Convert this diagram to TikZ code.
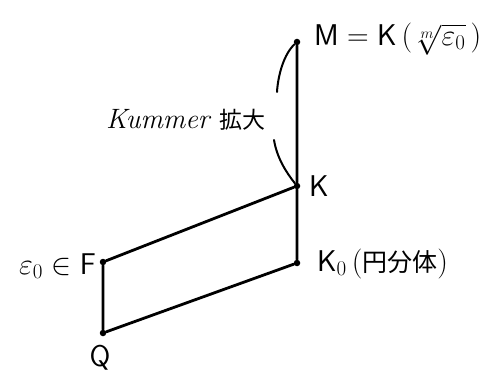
\documentclass[tikz,border=0pt]{standalone}
\usepackage{fix-cm}
\usepackage{fontspec}
\newfontfamily\jp{Noto Sans CJK JP}
\begin{document}
\begin{tikzpicture}[x=1pt,y=-1pt,
  dot/.style={circle,fill=black,inner sep=0pt,minimum size=6.5pt},
  edge/.style={line width=2.8pt,line cap=round},
  brace/.style={line width=2pt,line cap=round},
  lbl/.style={inner sep=0pt,font=\fontsize{30}{34}\selectfont}]
\useasboundingbox (0,0) rectangle (500,374);
\node[dot] (M) at (297,42) {};
\node[dot] (K) at (297,186) {};
\node[dot] (K0) at (297,263) {};
\node[dot] (F) at (103,262) {};
\node[dot] (Q) at (103,333) {};
\draw[edge] (M) -- (K) -- (K0) -- (Q) -- (F) -- (K);
\coordinate (c1) at (277,92);
\coordinate (c2) at (274,140);
\draw[brace] (M) .. controls (284,54) and (278,75) .. (c1);
\draw[brace] (c2) .. controls (277,158) and (286,172) .. (K);
\node[lbl,anchor=west] (Ml) at (314,39) {$\mathsf{M} = \mathsf{K}\,(\sqrt[m]{\varepsilon_0}\,)$};
\node[lbl,anchor=west] (Kl) at (309,186) {$\mathsf{K}$};
\node[lbl,anchor=west] (K0l) at (317,264) {$\mathsf{K}_0$\,({\jp\fontsize{25}{28}\selectfont 円分体})};
\node[lbl,anchor=east] (Fl) at (96,266) {$\varepsilon_0 \in \mathsf{F}$};
\node[lbl] (Ql) at (100,358) {$\mathsf{Q}$};
\node[lbl,anchor=west,font=\fontsize{28}{30}\selectfont] (Kum) at (106,120) {\textit{Kummer} {\jp\fontsize{23}{26}\selectfont 拡大}};
\end{tikzpicture}
\end{document}
